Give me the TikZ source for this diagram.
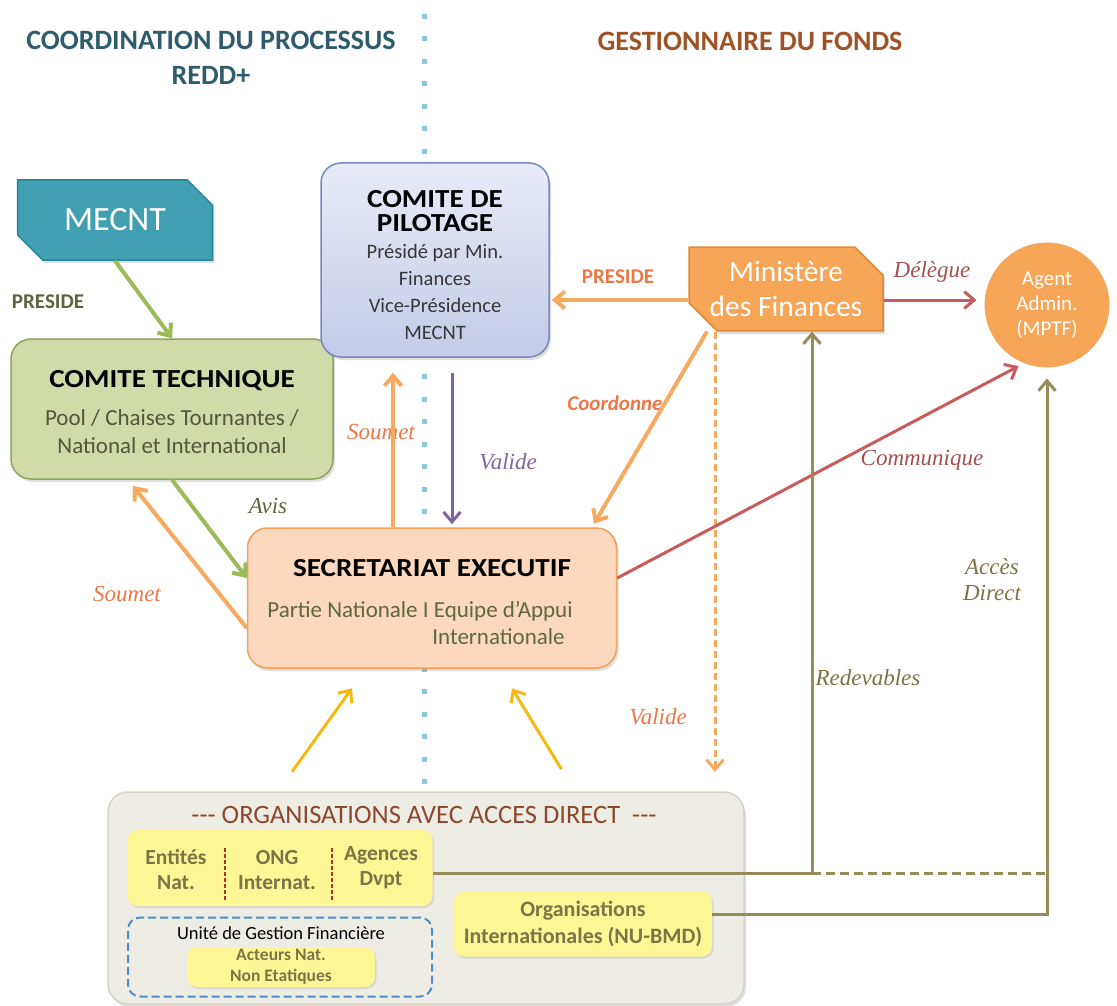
\documentclass[tikz,border=0pt]{standalone}
\usepackage{fontspec}
\setmainfont{Carlito}
\newfontfamily\handfont{Liberation Serif}
\newfontfamily\wideface{Carlito}[FakeStretch=1.12]
\usetikzlibrary{positioning,shapes.misc,shadows,arrows.meta}

\definecolor{tealtitle}{RGB}{46,92,108}
\definecolor{browntitle}{RGB}{158,82,38}
\definecolor{dotblue}{RGB}{140,200,220}
\definecolor{mecntfill}{RGB}{64,160,178}
\definecolor{mecntdraw}{RGB}{42,130,150}
\definecolor{techfill}{RGB}{208,219,169}
\definecolor{techdraw}{RGB}{140,165,90}
\definecolor{greenarrow}{RGB}{155,187,89}
\definecolor{presgreen}{RGB}{92,100,62}
\definecolor{pilotop}{RGB}{232,235,247}
\definecolor{pilobot}{RGB}{196,203,232}
\definecolor{pilodraw}{RGB}{120,135,192}
\definecolor{pilotext}{RGB}{55,55,55}
\definecolor{finfill}{RGB}{246,166,86}
\definecolor{findraw}{RGB}{222,135,55}
\definecolor{orangearrow}{RGB}{247,170,95}
\definecolor{orangelabel}{RGB}{238,118,70}
\definecolor{redarrow}{RGB}{200,92,92}
\definecolor{redlabel}{RGB}{165,80,80}
\definecolor{purplearrow}{RGB}{128,100,162}
\definecolor{olive}{RGB}{150,140,90}
\definecolor{olivetext}{RGB}{125,115,70}
\definecolor{secfill}{RGB}{251,216,190}
\definecolor{secdraw}{RGB}{240,160,90}
\definecolor{sectext}{RGB}{95,105,60}
\definecolor{subgray}{RGB}{85,85,60}
\definecolor{goldarrow}{RGB}{245,185,20}
\definecolor{orgfill}{RGB}{238,237,229}
\definecolor{orgdraw}{RGB}{215,212,198}
\definecolor{orgtext}{RGB}{140,72,42}
\definecolor{yelfill}{RGB}{255,246,150}
\definecolor{dashblue}{RGB}{80,140,200}
\definecolor{sepred}{RGB}{170,50,30}

\newcommand\boxtitle{\color{black}\wideface\bfseries\fontsize{26}{28}\selectfont}

\tikzset{
  heading/.style={font=\bfseries\fontsize{28}{35}\selectfont, align=center},
  plabel/.style={font=\bfseries\fontsize{21}{24}\selectfont},
  hlabel/.style={font=\handfont\itshape\fontsize{23}{26}\selectfont, align=center},
  roundbox/.style={rounded corners=20pt, line width=1.5pt, inner sep=0pt, align=center,
    drop shadow={opacity=0.25, shadow xshift=2pt, shadow yshift=-3pt}},
  chambox/.style={chamfered rectangle, chamfered rectangle corners={north east,south west},
    chamfered rectangle xsep=14pt, chamfered rectangle ysep=14pt, line width=1.5pt,
    inner sep=0pt, align=center,
    drop shadow={opacity=0.25, shadow xshift=2pt, shadow yshift=-3pt}},
  yelbox/.style={fill=yelfill, rounded corners=10pt, inner sep=0pt, align=center,
    text=olivetext, drop shadow={opacity=0.2, shadow xshift=1.5pt, shadow yshift=-2pt}},
  enttext/.style={align=center, text=olivetext, font=\bfseries\fontsize{21.5}{25}\selectfont},
  sepdots/.style={draw=dotblue, line width=5pt, dash pattern=on 5pt off 17.5pt},
  garrow/.style={->, draw=greenarrow, line width=4pt},
  oarrow/.style={->, draw=orangearrow, line width=4pt},
  rarrow/.style={->, draw=redarrow, line width=3pt},
  parrow/.style={->, draw=purplearrow, line width=3pt},
  olarrow/.style={draw=olive, line width=3pt},
  yarrow/.style={->, draw=goldarrow, line width=3pt},
}

\begin{document}
\begin{tikzpicture}[x=1pt, y=-1pt, >={Straight Barb[length=10pt,width=17pt]}]
\useasboundingbox (0,0) rectangle (1117,1006);

\node (coordtitle) [heading, text=tealtitle] at (211,58) {COORDINATION DU PROCESSUS\\REDD+};
\node (gesttitle) [heading, text=browntitle] at (750,41) {GESTIONNAIRE DU FONDS};

\draw [sepdots] (424,14) -- (424,785);

% boxes
\node (mecnt) [chambox, fill=mecntfill, draw=mecntdraw, minimum width=195pt, minimum height=80pt,
  text=white, font=\fontsize{34}{38}\selectfont] at (115,220) {MECNT};

\node (tech) [roundbox, fill=techfill, draw=techdraw, minimum width=322pt, minimum height=140pt] at (172,409) {};
\node (techtxt) [align=center, text=subgray, font=\fontsize{23}{28}\selectfont] at ([yshift=-3pt]tech.center)
  {{\boxtitle COMITE TECHNIQUE}\\[10pt]Pool / Chaises Tournantes /\\National et International};

\node (pilot) [roundbox, top color=pilotop, bottom color=pilobot, draw=pilodraw,
  minimum width=228pt, minimum height=194pt] at (435,260) {};
\node (pilottxt) [align=center, text=pilotext, font=\fontsize{20.5}{27}\selectfont] at ([yshift=-5pt]pilot.center)
  {{\boxtitle COMITE DE}\\[-3pt]{\boxtitle PILOTAGE}\\Présidé par Min.\\Finances\\Vice-Présidence\\MECNT};

\node (fin) [chambox, fill=finfill, draw=findraw, minimum width=194pt, minimum height=82pt,
  text=white, font=\fontsize{29.5}{35}\selectfont] at (786,289) {Ministère\\des Finances};

\node (agent) [circle, fill=finfill, draw=white, line width=5pt, minimum size=130pt, inner sep=0pt,
  text=white, align=center, font=\fontsize{21}{25}\selectfont,
  drop shadow={opacity=0.25, shadow xshift=1pt, shadow yshift=-2pt}] at (1047,305) {Agent\\Admin.\\(MPTF)};

\node (sec) [roundbox, fill=secfill, draw=secdraw, minimum width=369pt, minimum height=140pt] at (432,598) {};
\node (sectitle) [font=\boxtitle] at (432,568) {SECRETARIAT EXECUTIF};
\node (secsub) [align=right, text=sectext, font=\fontsize{23}{27}\selectfont] at (420,623)
  {Partie Nationale I Equipe d’Appui\\Internationale\hspace*{8pt}};

\node (org) [roundbox, fill=orgfill, draw=orgdraw, minimum width=636pt, minimum height=212pt] at (426,898) {};
\node (orgtitle) [text=orgtext, font=\fontsize{26.5}{30}\selectfont] at (424,815)
  {-{}-{}- ORGANISATIONS AVEC ACCES DIRECT \ -{}-{}-};

\node (ent) [yelbox, minimum width=305pt, minimum height=76pt] at (280,868) {};
\node (entnat) [enttext] at (176,870) {Entités\\Nat.};
\node (ong) [enttext] at (277,870) {ONG\\Internat.};
\node (agences) [enttext] at (381,868) {Agences\\Dvpt};
\draw [sepred, line width=1.5pt, dash pattern=on 4pt off 2pt] (225,848) -- (225,900);
\draw [sepred, line width=1.5pt, dash pattern=on 4pt off 2pt] (332,848) -- (332,900);

\node (ugf) [draw=dashblue, dash pattern=on 8pt off 4pt, line width=2pt, rounded corners=12pt,
  minimum width=304pt, minimum height=79pt] at (280,957) {};
\node (ugftitle) [font=\fontsize{18.5}{22}\selectfont] at (281,933) {Unité de Gestion Financière};
\node (acteurs) [yelbox, minimum width=188pt, minimum height=40pt, font=\bfseries\fontsize{17.5}{21}\selectfont]
  at (281,967) {Acteurs Nat.\\Non Etatiques};

\node (orgint) [yelbox, minimum width=258pt, minimum height=65pt, font=\bfseries\fontsize{22}{27}\selectfont]
  at (583,924) {Organisations\\Internationales (NU-BMD)};

% labels
\node (presmecnt) [plabel, text=presgreen] at (48,302) {PRESIDE};
\node (presfin) [plabel, text=orangelabel] at (618,277) {PRESIDE};
\node (delegue) [hlabel, text=redlabel] at (932,272) {Délègue};
\node (coordonne) [text=orangelabel, font=\bfseries\itshape\fontsize{21}{24}\selectfont] at (615,403) {Coordonne};
\node (soumetup) [hlabel, text=orangelabel] at (381,432) {Soumet};
\node (validepil) [hlabel, text=purplearrow] at (508,462) {Valide};
\node (avis) [hlabel, text=presgreen] at (268,506) {Avis};
\node (soumetleft) [hlabel, text=orangelabel] at (127,594) {Soumet};
\node (communique) [hlabel, text=redlabel] at (922,460) {Communique};
\node (validefin) [hlabel, text=orangelabel] at (658,717) {Valide};
\node (redevables) [hlabel, text=olivetext] at (868,678) {Redevables};
\node (acces) [hlabel, text=olivetext] at (992,580) {Accès\\Direct};

% connectors
\coordinate (finleft) at ([yshift=-11pt]fin.west);
\coordinate (finright) at ([yshift=-11pt]fin.east);
\coordinate (secsoumet) at ([xshift=-39pt]sec.north);
\coordinate (pilvalide) at ([xshift=17pt]pilot.south);
\coordinate (validend) at (715,772);
\coordinate (redfoot) at (812,873);
\coordinate (accfoot) at (redfoot -| agent.south);

\draw [garrow] (mecnt.south) -- (tech.north);
\draw [garrow] (tech.south) -- ([yshift=20pt]sec.west);
\draw [oarrow, shorten >=8pt] ([yshift=-30pt]sec.west) -- ([xshift=-44pt]tech.south);
\draw [oarrow, shorten >=15pt] (secsoumet) -- (secsoumet |- pilot.south);
\draw [parrow, shorten <=15pt, shorten >=3pt] (pilvalide) -- (pilvalide |- sec.north);
\draw [oarrow, shorten >=2pt] (finleft) -- (finleft -| pilot.east);
\draw [rarrow, shorten >=3pt] (finright) -- (finright -| agent.west);
\draw [oarrow, shorten >=4pt] ([xshift=-79pt]fin.south) -- ([xshift=160pt]sec.north);
\draw [oarrow, line width=3pt, dash pattern=on 7pt off 4pt] ([xshift=-71pt]fin.south) -- (validend);
\draw [rarrow] ([yshift=20pt]sec.east) -- (agent.245);
\draw [yarrow, shorten <=24pt, shorten >=24pt] ([xshift=-148pt]org.north) -- ([xshift=-66pt]sec.south);
\draw [yarrow, shorten <=26pt, shorten >=23pt] ([xshift=149pt]org.north) -- ([xshift=68pt]sec.south);
\draw [olarrow, ->] (ent.east |- redfoot) -- (redfoot) -- (redfoot |- fin.south);
\draw [olarrow, dash pattern=on 9pt off 5pt] (redfoot) -- (accfoot);
\draw [olarrow, ->, shorten >=6pt] ([yshift=10pt]orgint.east) -| (agent.south);

\end{tikzpicture}
\end{document}
